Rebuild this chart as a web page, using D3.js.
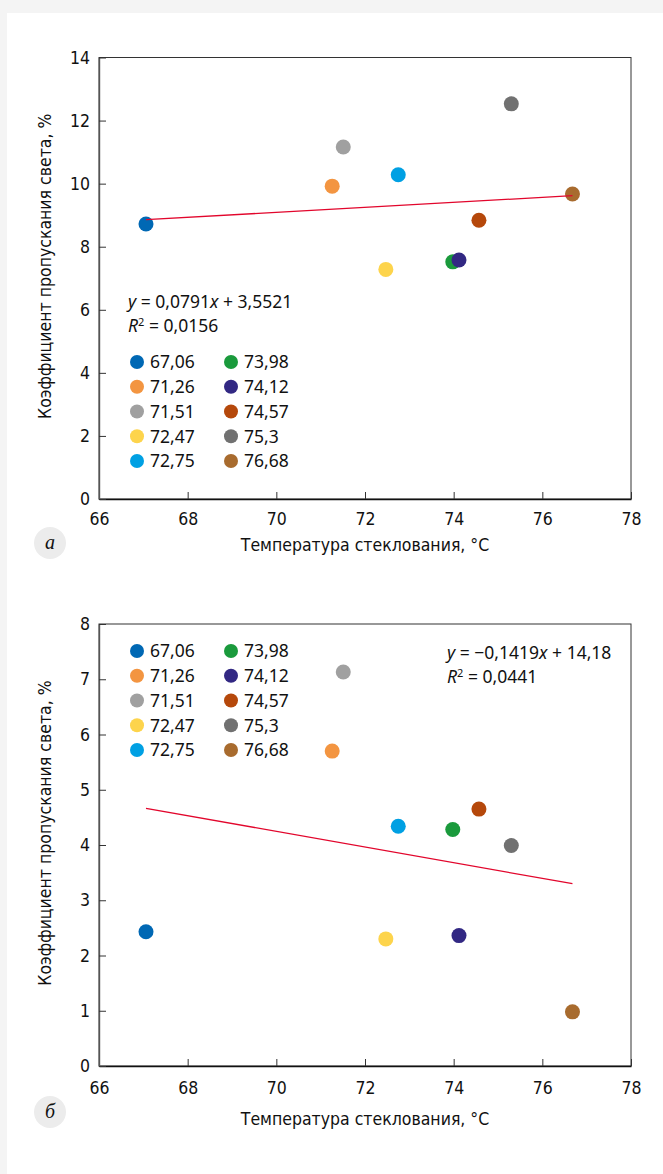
<!DOCTYPE html>
<html>
<head>
<meta charset="utf-8">
<script src="https://cdn.jsdelivr.net/npm/d3@7"></script>
<style>
	body { margin: 0; background: #f4f4f4; }
	svg { display: block; }
	.tick text { font-family: "Liberation Sans Narrow", "DejaVu Sans Condensed", sans-serif; font-size: 17.5px; fill: #111; }
	.ttl { font-family: "Liberation Sans Narrow", "DejaVu Sans Condensed", sans-serif; font-size: 17.5px; fill: #111; }
	.lg { font-family: "Noto Sans", sans-serif; font-size: 17.5px; fill: #111; }
</style>
</head>
<body>
<svg id="chart"></svg>
<script>
const width  = 663;
const height = 1174;

// температура стеклования для каждого образца
const tg       = [67.06, 71.26, 71.51, 72.47, 72.75, 73.98, 74.12, 74.57, 75.3, 76.68];
const tgLabels = ["67,06", "71,26", "71,51", "72,47", "72,75", "73,98", "74,12", "74,57", "75,3", "76,68"];
const colors   = ["#0068b4", "#f39541", "#a0a0a0", "#fdd44c", "#00a0e3", "#1a9a3c", "#322883", "#b5480b", "#717171", "#a86b2e"];

// коэффициент пропускания света, %
const transA = [8.72, 9.92, 11.16, 7.28, 10.28, 7.52, 7.58, 8.84, 12.53, 9.67];
const transB = [2.43, 5.70, 7.13, 2.30, 4.34, 4.28, 2.36, 4.65, 3.99, 0.98];

const xTicks  = [66, 68, 70, 72, 74, 76, 78];
const yTicksA = [0, 2, 4, 6, 8, 10, 12, 14];
const yTicksB = [0, 1, 2, 3, 4, 5, 6, 7, 8];

// линейный тренд
const fitA = {k: 0.0791, b: 3.5521, eq: ["0,0791", "3,5521"], r2: "0,0156"};
const fitB = {k: -0.1419, b: 14.18, eq: ["\u22120,1419", "14,18"], r2: "0,0441"};

const xTitle = "Температура стеклования, °С";
const yTitle = "Коэффициент пропускания света, %";

const svg = d3.select('#chart')
	.attr('width', width)
	.attr('height', height);

svg.append('rect').attr('width', width).attr('height', height).attr('fill', '#f4f4f4');
svg.append('rect').attr('x', 7).attr('y', 13).attr('width', width - 7).attr('height', height - 13).attr('fill', '#fff');

const left = 99, right = 631;

let drawPanel = (cfg) => {
	const x = d3.scaleLinear().domain([66, 78]).range([left, right]);
	const y = d3.scaleLinear().domain([0, d3.max(cfg.yTicks)]).range([cfg.bottom, cfg.top]);
	const g = svg.append('g');

	// рамка
	g.append('rect')
		.attr('x', left).attr('y', cfg.top)
		.attr('width', right - left).attr('height', cfg.bottom - cfg.top)
		.attr('fill', 'none').attr('stroke', '#333').attr('stroke-width', 1);

	g.append('g')
		.attr('transform', 'translate(0,' + cfg.bottom + ')')
		.call(d3.axisBottom(x).tickValues(xTicks).tickSize(-7).tickPadding(cfg.xPad).tickSizeOuter(0))
		.call(a => a.select('.domain').attr('stroke', '#111').attr('stroke-width', 1.4))
		.call(a => a.selectAll('.tick line').attr('stroke', '#333'));

	g.append('g')
		.attr('transform', 'translate(' + left + ',0)')
		.call(d3.axisLeft(y).tickValues(cfg.yTicks).tickSize(-7).tickPadding(9).tickSizeOuter(0))
		.call(a => a.select('.domain').attr('stroke', '#555').attr('stroke-width', 1.4))
		.call(a => a.selectAll('.tick line').attr('stroke', '#333'));

	// точки
	g.append('g')
		.selectAll('circle')
		.data(tg.map((t, i) => ({t: t, v: cfg.values[i], c: colors[i]})))
		.join('circle')
			.attr('cx', d => x(d.t))
			.attr('cy', d => y(d.v))
			.attr('r', 7.5)
			.attr('fill', d => d.c);

	// тренд
	const x0 = d3.min(tg), x1 = d3.max(tg);
	g.append('line')
		.attr('x1', x(x0)).attr('y1', y(cfg.fit.k * x0 + cfg.fit.b))
		.attr('x2', x(x1)).attr('y2', y(cfg.fit.k * x1 + cfg.fit.b))
		.attr('stroke', '#e2062c').attr('stroke-width', 1.3);

	// уравнение
	const eq = g.append('text').attr('class', 'lg').attr('x', cfg.eqX).attr('y', cfg.eqY);
	eq.append('tspan').attr('font-style', 'italic').text('y');
	eq.append('tspan').text(' = ' + cfg.fit.eq[0]);
	eq.append('tspan').attr('font-style', 'italic').text('x');
	eq.append('tspan').text(' + ' + cfg.fit.eq[1]);

	const r2 = g.append('text').attr('class', 'lg').attr('x', cfg.eqX).attr('y', cfg.eqY + 24);
	r2.append('tspan').attr('font-style', 'italic').text('R');
	r2.append('tspan').attr('font-size', '11px').attr('dy', -6).text('2');
	r2.append('tspan').attr('dy', 6).text(' = ' + cfg.fit.r2);

	// легенда
	const lg = g.append('g')
		.selectAll('g')
		.data(tgLabels.map((l, i) => ({l: l, c: colors[i], col: Math.floor(i / 5), row: i % 5})))
		.join('g')
			.attr('transform', d => 'translate(' + (137 + d.col * 94) + ',' + (cfg.legY + d.row * 24.75) + ')');
	lg.append('circle').attr('r', 7).attr('fill', d => d.c);
	lg.append('text').attr('class', 'lg').attr('x', 13).attr('dy', '0.36em').text(d => d.l);

	// подписи осей
	g.append('text').attr('class', 'ttl')
		.attr('x', (left + right) / 2).attr('y', cfg.bottom + cfg.titleOff)
		.attr('text-anchor', 'middle').attr('dy', '0.36em')
		.text(xTitle);

	g.append('text').attr('class', 'ttl')
		.attr('transform', 'translate(45,' + ((cfg.top + cfg.bottom) / 2 - 12) + ') rotate(-90)')
		.attr('text-anchor', 'middle').attr('dy', '0.36em')
		.text(yTitle);

	// буква панели
	g.append('circle').attr('cx', 50).attr('cy', cfg.bottom + cfg.letterOff).attr('r', 16).attr('fill', '#ececec');
	g.append('text')
		.attr('x', 50).attr('y', cfg.bottom + cfg.letterOff)
		.attr('text-anchor', 'middle').attr('dy', '0.3em')
		.attr('font-family', '"Liberation Serif", serif').attr('font-style', 'italic').attr('font-size', '20px')
		.attr('fill', '#111')
		.text(cfg.letter);
}

drawPanel({top: 57.5, bottom: 499, yTicks: yTicksA, values: transA, fit: fitA, eqX: 128, eqY: 308, legY: 362,
	xPad: 14, titleOff: 46, letterOff: 44, letter: 'а'});
drawPanel({top: 624, bottom: 1066, yTicks: yTicksB, values: transB, fit: fitB, eqX: 447, eqY: 659, legY: 651,
	xPad: 16, titleOff: 53, letterOff: 46, letter: 'б'});
</script>
</body>
</html>
